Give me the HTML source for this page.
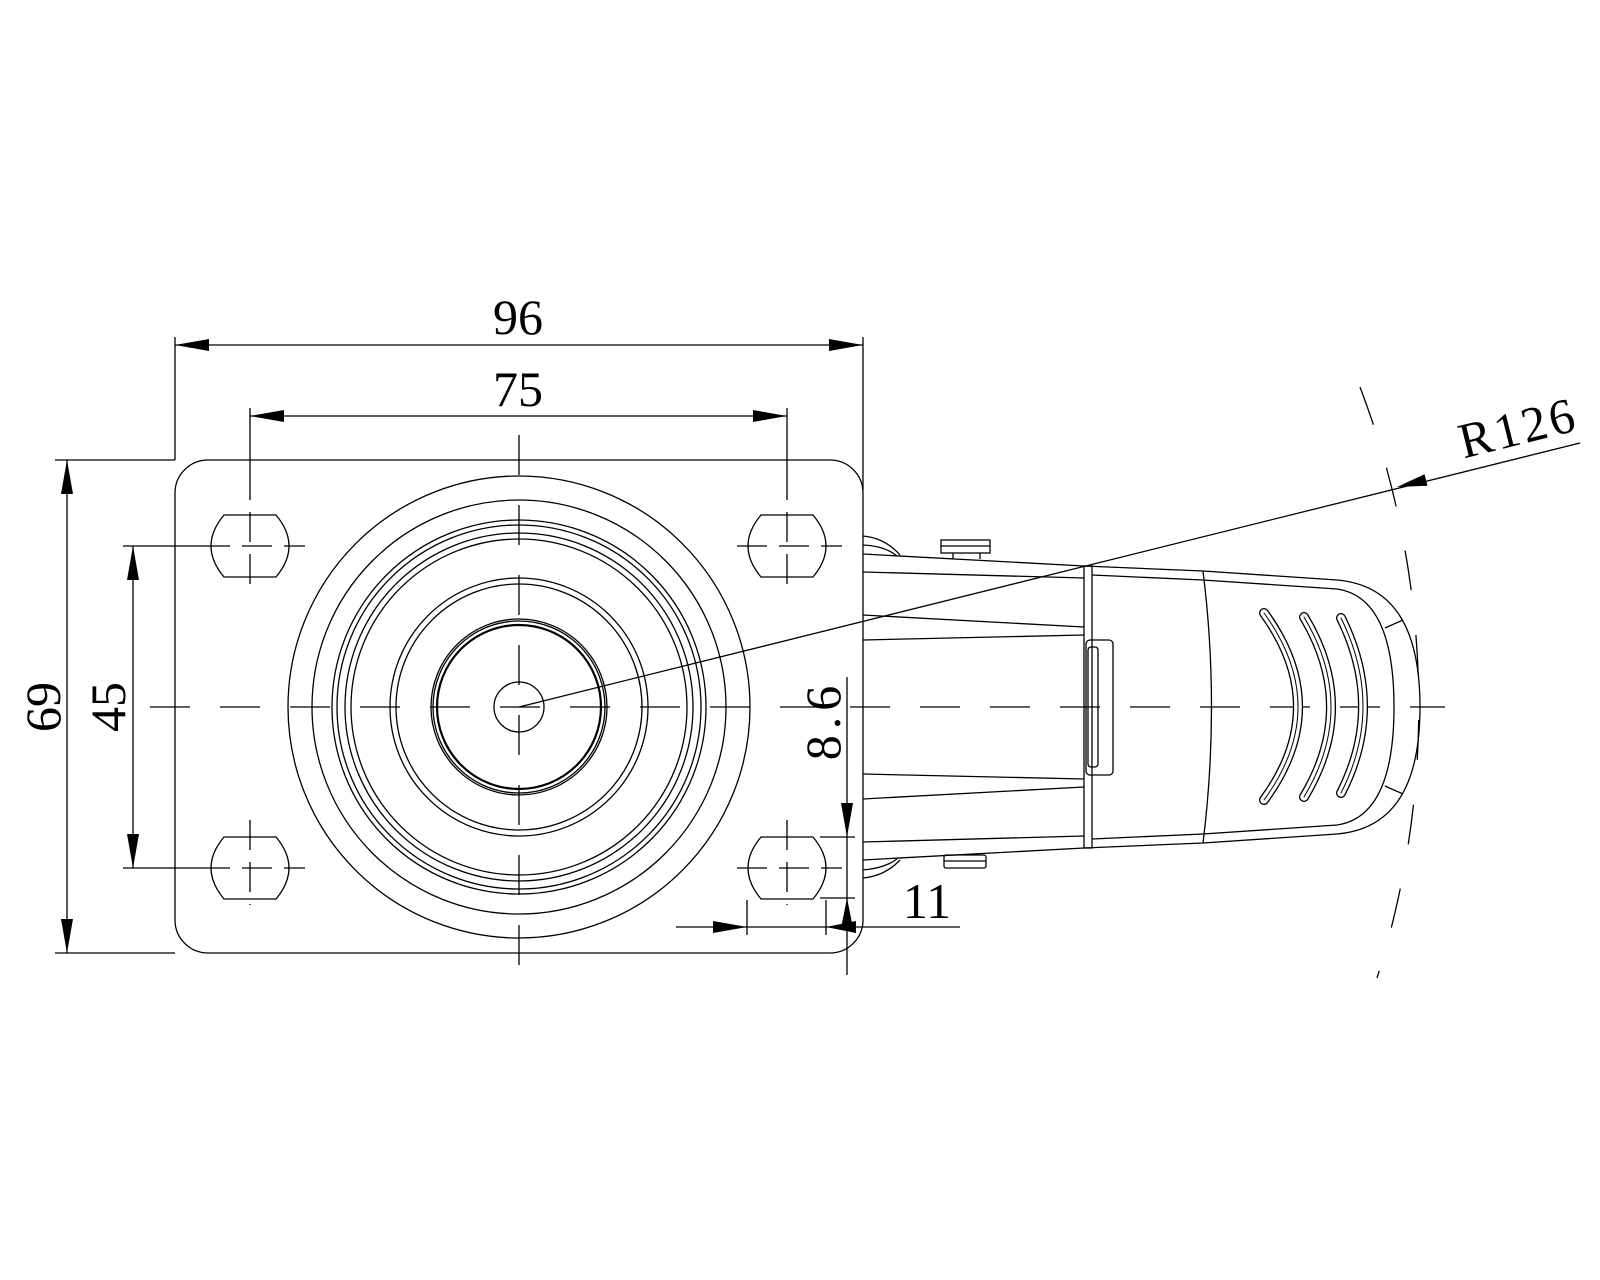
<!DOCTYPE html>
<html><head><meta charset="utf-8"><style>
html,body{margin:0;padding:0;background:#fff;}
svg{display:block;}
text{font-family:"Liberation Serif",serif;font-size:50px;fill:#000;}
</style></head><body>
<svg width="1600" height="1280" viewBox="0 0 1600 1280" xmlns="http://www.w3.org/2000/svg">
<g fill="none" stroke="#000" stroke-width="1.3">
<!-- plate -->
<rect x="175" y="460" width="688" height="493" rx="33" ry="33"/>
<!-- holes -->
<path d="M224,515 L276,515 Q302,546 276,577 L224,577 Q198,546 224,515Z"/>
<path d="M761,515 L813,515 Q839,546 813,577 L761,577 Q735,546 761,515Z"/>
<path d="M224,837 L276,837 Q302,868 276,899 L224,899 Q198,868 224,837Z"/>
<path d="M761,837 L813,837 Q839,868 813,899 L761,899 Q735,868 761,837Z"/>
<!-- wheel circles -->
<circle cx="519" cy="707" r="231"/>
<circle cx="519" cy="707" r="207"/>
<circle cx="519" cy="707" r="187"/>
<circle cx="519" cy="707" r="182"/>
<circle cx="519" cy="707" r="174"/>
<circle cx="519" cy="707" r="168"/>
<circle cx="519" cy="707" r="129"/>
<circle cx="519" cy="707" r="123"/>
<circle cx="519" cy="707" r="88"/>
<circle cx="519" cy="707" r="86"/>
<circle cx="519" cy="707" r="82" stroke-width="2.2"/>
<circle cx="519" cy="707" r="25"/>
<!-- centerlines -->
<line x1="150" y1="707" x2="1445" y2="707" stroke-dasharray="40 30"/>
<line x1="519" y1="435" x2="519" y2="985" stroke-dasharray="40 30"/>
<g stroke-dasharray="30 12">
<line x1="200" y1="546" x2="305" y2="546"/><line x1="737" y1="546" x2="842" y2="546"/>
<line x1="200" y1="868" x2="305" y2="868"/><line x1="737" y1="868" x2="842" y2="868"/>
<line x1="250" y1="470" x2="250" y2="595"/><line x1="787" y1="470" x2="787" y2="595"/>
<line x1="250" y1="820" x2="250" y2="905"/><line x1="787" y1="820" x2="787" y2="905"/>
</g>
<line x1="250" y1="408" x2="250" y2="470"/><line x1="787" y1="408" x2="787" y2="470"/>
<!-- dimension 96 -->
<line x1="175" y1="337" x2="175" y2="460"/><line x1="863" y1="337" x2="863" y2="490"/>
<line x1="175" y1="345" x2="863" y2="345"/>
<!-- 75 -->
<line x1="250" y1="416" x2="787" y2="416"/>
<!-- 69 -->
<line x1="55" y1="460" x2="175" y2="460"/><line x1="55" y1="953" x2="175" y2="953"/>
<line x1="67" y1="460" x2="67" y2="953"/>
<!-- 45 -->
<line x1="123" y1="546" x2="200" y2="546"/><line x1="123" y1="868" x2="200" y2="868"/>
<line x1="133" y1="546" x2="133" y2="868"/>
<!-- 8.6 -->
<line x1="847" y1="677" x2="847" y2="975"/>
<line x1="820" y1="837" x2="855" y2="837"/><line x1="820" y1="898" x2="855" y2="898"/>
<!-- 11 -->
<line x1="676" y1="927" x2="960" y2="927"/>
<line x1="747" y1="900" x2="747" y2="935"/><line x1="826" y1="900" x2="826" y2="935"/>
<!-- R126 -->
<line x1="519" y1="707" x2="1580" y2="443"/>
<path d="M1360,387 A900,900 0 0 1 1377,978" stroke-dasharray="40 45"/>
<!-- brake body -->
<path d="M863,554 L1084,566 L1203,571 L1337,580 C1395,585 1420,630 1420,707 C1420,784 1395,829 1337,834 L1203,843 L1084,848 L863,860"/>
<path d="M1092,575 L1203,580 L1337,589 C1378,595 1394,640 1394,707 C1394,774 1378,819 1337,825 L1203,834 L1092,839"/>
<line x1="863" y1="572" x2="1084" y2="578"/>
<line x1="863" y1="615" x2="1084" y2="627"/>
<line x1="863" y1="640" x2="1084" y2="635"/>
<line x1="863" y1="842" x2="1084" y2="836"/>
<line x1="863" y1="799" x2="1084" y2="787"/>
<line x1="863" y1="774" x2="1084" y2="779"/>
<rect x="1084" y="566" width="8" height="282"/>
<rect x="1086" y="640" width="27" height="135" rx="4"/>
<rect x="1088" y="647" width="10" height="120" rx="3"/>
<path d="M1203,571 Q1220,707 1203,843"/>
<!-- cap lines near tip -->
<path d="M1385,628 L1403,620 M1385,786 L1403,794"/>
<!-- top and bottom pieces -->
<rect x="941" y="540" width="49" height="13"/><line x1="941" y1="546" x2="990" y2="546"/>
<line x1="953" y1="553" x2="953" y2="559"/><line x1="980" y1="553" x2="980" y2="559"/>
<rect x="944" y="855" width="42" height="13" rx="2"/><line x1="944" y1="861" x2="986" y2="861"/>
<path d="M863,536 Q885,538 900,555 M863,545 Q885,546 897,556"/>
<path d="M863,878 Q885,876 900,860 M863,870 Q885,868 897,859"/>
</g>
<!-- slots -->
<g fill="none" stroke-linecap="round">
<g stroke="#000" stroke-width="10">
<path d="M1264,613 Q1332,707 1264,800"/>
<path d="M1304,617 Q1358,707 1304,797"/>
<path d="M1341,618 Q1385,707 1341,793"/>
</g>
<g stroke="#fff" stroke-width="7.4">
<path d="M1264,613 Q1332,707 1264,800"/>
<path d="M1304,617 Q1358,707 1304,797"/>
<path d="M1341,618 Q1385,707 1341,793"/>
</g>
<g stroke="#000" stroke-width="1">
<path d="M1264,613 Q1332,707 1264,800"/>
<path d="M1304,617 Q1358,707 1304,797"/>
<path d="M1341,618 Q1385,707 1341,793"/>
</g>
</g>
<!-- arrowheads -->
<g fill="#000">
<polygon points="175,345 209,339 209,351"/>
<polygon points="863,345 829,339 829,351"/>
<polygon points="250,416 284,410 284,422"/>
<polygon points="787,416 753,410 753,422"/>
<polygon points="67,460 61,494 73,494"/>
<polygon points="67,953 61,919 73,919"/>
<polygon points="133,546 127,580 139,580"/>
<polygon points="133,868 127,834 139,834"/>
<polygon points="847,837 841,803 853,803"/>
<polygon points="847,898 841,928 853,928"/>
<polygon points="747,927 713,921 713,933"/>
<polygon points="826,927 856,921 856,933"/>
<polygon points="1397,487 1427.5,485.8 1424.5,474.2"/>
</g>
<!-- labels -->
<text x="518" y="334" text-anchor="middle">96</text>
<text x="518" y="406" text-anchor="middle">75</text>
<text transform="translate(60,707) rotate(-90)" text-anchor="middle">69</text>
<text transform="translate(125,707) rotate(-90)" text-anchor="middle">45</text>
<text transform="translate(840,720) rotate(-90)" text-anchor="middle" letter-spacing="6">8.6</text>
<text x="927" y="918" text-anchor="middle">11</text>
<text transform="translate(1522,444) rotate(-14)" text-anchor="middle" letter-spacing="3">R126</text>
</svg>
</body></html>
